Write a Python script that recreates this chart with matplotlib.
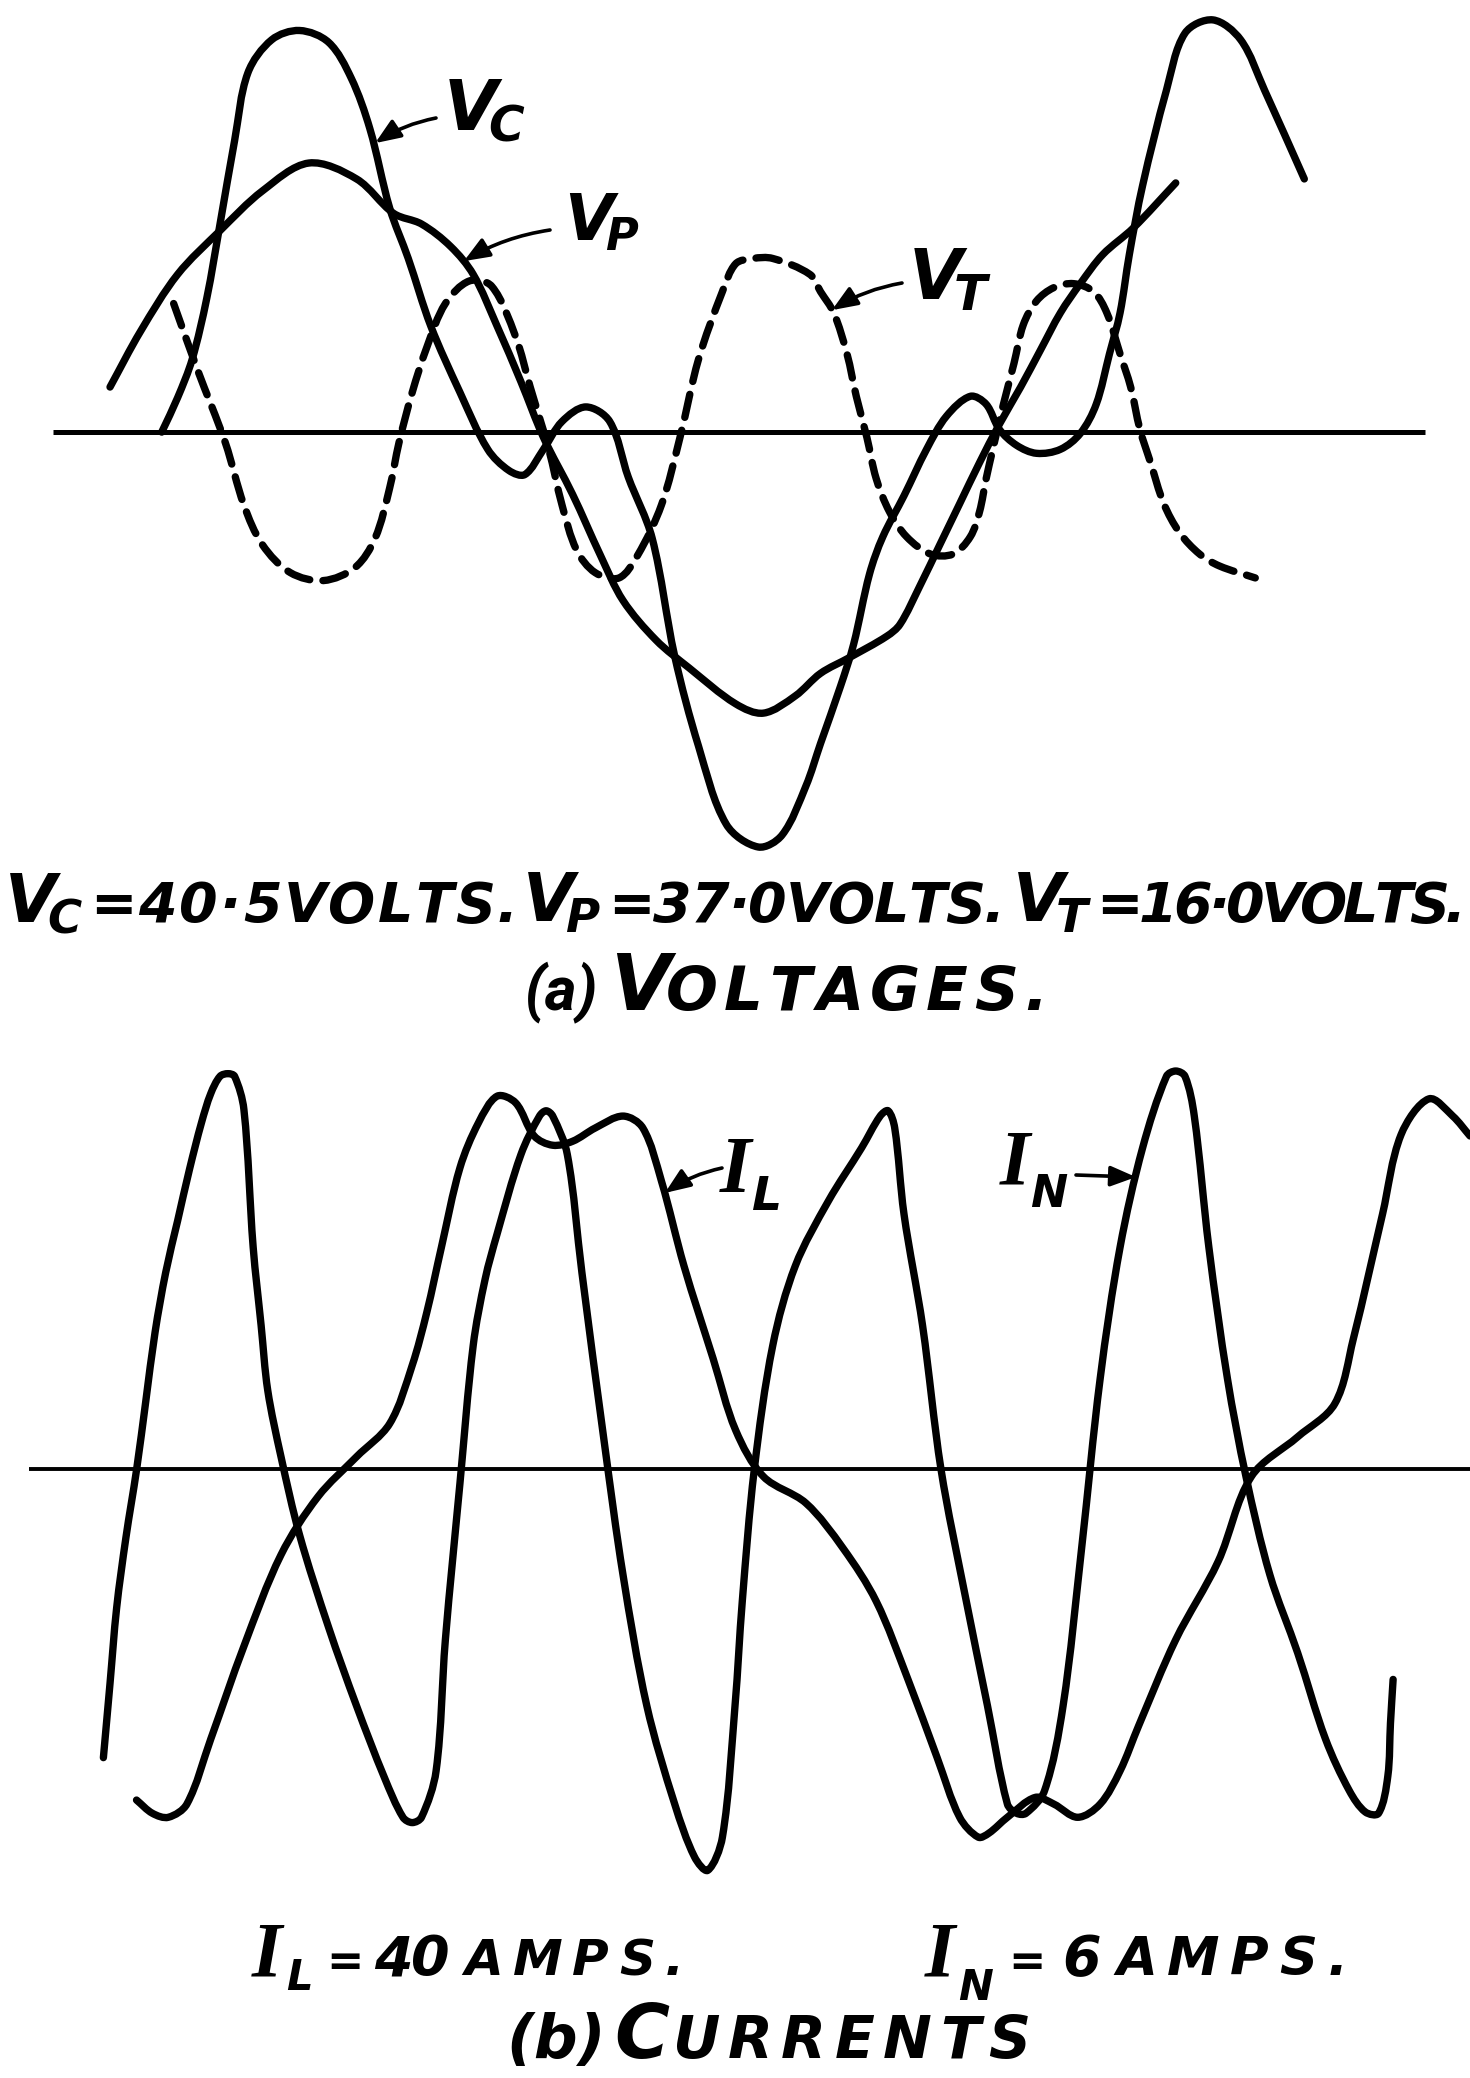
import numpy as np
import matplotlib
matplotlib.use("Agg")
import matplotlib.pyplot as plt
from matplotlib.path import Path
from matplotlib.patches import PathPatch

plt.rcParams["mathtext.fontset"] = "custom"
plt.rcParams["mathtext.it"] = "DejaVu Sans:oblique:bold"
plt.rcParams["mathtext.rm"] = "DejaVu Sans:oblique:bold"
plt.rcParams["mathtext.bf"] = "DejaVu Sans:oblique:bold"

# ---------------------------------------------------------------------------
# Oscillogram traces (time in electrical degrees, deflection in record units)
# ---------------------------------------------------------------------------
# (a) Voltages
vc_t = [61, 67, 72.5, 78, 83, 88.5, 93.5, 102.5, 113, 124,
        132.5, 139.5, 147, 154, 162.5, 173.5, 184, 192, 198, 205,
        212, 221, 230, 237, 246, 254.5, 263.5, 274, 286, 295,
        304, 309.5, 317, 322, 328, 333, 341, 349.5, 357, 366,
        372, 377, 383.5, 391, 400, 407.5, 413.5, 418.5, 422.5, 426,
        431, 440, 447, 457.5, 468, 477, 492]
vc_v = [0.0, 2.6, 5.5, 10.1, 15.7, 22.0, 27.1, 29.6, 30.3, 29.4,
        26.7, 22.9, 16.9, 13.1, 8.0, 3.0, -1.3, -2.9, -3.2, -1.3,
        0.8, 1.9, 0.8, -3.4, -8.0, -16.9, -23.7, -29.6, -31.3, -30.4,
        -26.7, -23.5, -19.2, -16.0, -10.7, -7.9, -4.8, -1.3, 1.2, 2.7,
        2.1, 0.2, -1.0, -1.6, -1.3, -0.1, 2.1, 5.9, 9.0, 13.4,
        18.6, 25.8, 30.1, 31.1, 29.6, 25.8, 19.1]

vp_t = [41.5, 53, 67, 83, 99, 116.5, 134.5, 148.5, 159, 170,
        178.5, 187.5, 196.5, 205, 216, 226.5, 235, 247.5, 260, 277.5,
        288, 300, 309.5, 320.5, 334.5, 339.5, 347, 354.5, 362, 369.5,
        377, 385, 392.5, 400, 407.5, 416, 427.5, 443.5]
vp_v = [3.4, 7.6, 11.9, 15.2, 18.2, 20.3, 19.1, 16.5, 15.7, 14.0,
        11.9, 8.0, 3.8, -0.4, -4.7, -9.3, -12.7, -15.7, -17.8, -20.5,
        -21.2, -19.9, -18.2, -17.0, -15.4, -14.5, -11.6, -8.5, -5.4, -2.3,
        0.6, 3.4, 6.2, 9.0, 11.2, 13.4, 15.4, 18.8]

vt_t = [65.5, 74.5, 85, 92, 99, 109.5, 122, 134, 141.5, 147,
        150.5, 155.5, 161, 168, 177, 185.5, 194.5, 200, 207, 212,
        217.5, 224.5, 233.5, 240.5, 249.5, 256.5, 263.5, 272.5, 277.5, 284,
        291.5, 305.5, 309.5, 314.5, 319.5, 323, 327, 330.5, 335.5, 342,
        351, 359.5, 366, 369.5, 372, 374.5, 378.5, 382.5, 386, 391,
        397.5, 405, 412.5, 417.5, 422.5, 426.5, 430, 434, 439, 445,
        452.5, 460, 473.5]
vt_v = [9.7, 4.7, -0.8, -5.5, -8.5, -10.6, -11.2, -10.2, -8.0, -4.2,
        -0.8, 3.0, 6.4, 9.7, 11.4, 11.0, 7.2, 3.4, -1.3, -5.5,
        -8.9, -10.6, -11.0, -9.3, -5.5, -0.4, 5.5, 10.6, 12.7, 13.1,
        13.1, 11.9, 10.6, 9.0, 5.9, 2.7, -0.4, -3.5, -6.0, -7.9,
        -9.2, -9.2, -7.9, -6.0, -3.5, -1.3, 2.1, 5.2, 8.1, 9.9,
        10.9, 11.2, 10.6, 9.0, 5.9, 3.4, 0.2, -2.3, -5.4, -7.6,
        -9.2, -10.1, -11.0]

# (b) Currents
in_t = [39, 41.5, 44, 47.5, 51.5, 55, 58.5, 62.5, 67, 71.5,
        76, 79.5, 83, 86, 88.5, 92, 95.5, 98.5, 101, 106,
        113, 124, 134.5, 145, 152, 155.5, 159, 164.5, 168, 173.5,
        178.5, 183, 187.5, 196.5, 203.5, 206, 208.5, 214, 219.5, 228,
        235, 244, 254.5, 262, 267, 272.5, 277.25, 280, 284.5, 291.5,
        300, 312.5, 325, 332, 335, 337.5, 341, 348, 355, 364,
        372.5, 380, 383.5, 387, 394, 401, 408, 415, 422.5, 431,
        440, 443.5, 447, 450.5, 456, 463, 470, 479, 489.5, 500,
        509, 515, 520, 523.5, 524.5, 525.5]
in_v = [-21.8, -16.2, -10.5, -5.2, -0.1, 5.1, 10.3, 14.8, 18.7, 22.6,
        26.1, 28.3, 29.6, 29.8, 29.6, 27.1, 16.7, 10.8, 5.9, 0.9,
        -5.0, -12.0, -17.9, -23.3, -26.3, -26.7, -26.3, -22.8, -12.9, -1.1,
        9.3, 14.3, 17.7, 23.7, 26.6, 27.0, 26.6, 23.7, 14.8, 1.9,
        -8.0, -17.9, -25.3, -29.3, -30.3, -27.8, -17.9, -10.0, -0.1, 9.3,
        15.3, 20.2, 24.2, 26.6, 27.0, 25.7, 19.2, 10.8, -0.1, -9.5,
        -17.9, -25.3, -26.0, -26.0, -24.3, -17.9, -6.0, 6.8, 16.7, 24.2,
        29.6, 30.0, 29.6, 26.6, 16.7, 6.8, -0.6, -8.0, -13.9, -20.4,
        -24.3, -25.9, -26.0, -23.2, -19.2, -15.9]

il_t = [51.5, 57.5, 63.5, 70.5, 79.5, 92, 106, 120, 134.5, 147,
        155.5, 161, 166.5, 173.5, 180.5, 187.5, 194.5, 201.5, 208.5, 216,
        224.5, 235, 242.5, 249.5, 258, 269, 277.5, 288, 304, 318,
        330.5, 342.5, 353.5, 362, 369, 373, 380, 390.5, 397.5, 406.5,
        415, 422.5, 429.5, 443.5, 459.5, 472, 489.5, 503.5, 510.5, 521.5,
        528.5, 539, 548, 554.5]
il_v = [-25.0, -26.0, -26.3, -25.3, -20.4, -13.4, -6.5, -2.1, 0.9, 3.4,
        7.8, 11.8, 16.7, 22.7, 26.1, 28.1, 27.6, 25.1, 24.4, 24.7,
        25.7, 26.6, 25.7, 21.7, 15.3, 8.3, 2.9, -0.6, -2.6, -6.0,
        -10.0, -15.9, -21.8, -26.3, -27.8, -27.5, -26.3, -24.8, -25.3, -26.3,
        -25.3, -22.8, -19.4, -12.9, -7.0, -0.6, 2.4, 4.9, 9.8, 19.2,
        25.2, 27.9, 26.6, 25.1]

# zero lines (start / end in degrees)
volt_zero = (20, 537.5)
curr_zero = (11, 554.5)

# ---------------------------------------------------------------------------
FIG_W, FIG_H = 1470, 2078
fig = plt.figure(figsize=(FIG_W / 100, FIG_H / 100), dpi=100)
fig.patch.set_facecolor("white")

ax_v = fig.add_axes([0, 1 - 880 / FIG_H, 1, 880 / FIG_H])
ax_v.set_xlim(0, 554.5)
ax_v.set_ylim(-33.79, 32.6)
ax_i = fig.add_axes([0, (FIG_H - 1900) / FIG_H, 1, 860 / FIG_H])
ax_i.set_xlim(0, 554.5)
ax_i.set_ylim(-32.54, 32.34)
for ax in (ax_v, ax_i):
    ax.axis("off")

PX_X, PX_Y = FIG_W / 554.5, 13.255   # display pixels per data unit


def trace_path(t, v):
    """Smooth Bezier path through the read points (chord-length Catmull-Rom)."""
    P = np.column_stack([t, v]).astype(float)
    S = np.array([PX_X, PX_Y])
    n = len(P)
    verts, codes = [P[0]], [Path.MOVETO]
    for i in range(n - 1):
        p0, p1 = P[max(i - 1, 0)], P[i]
        p2, p3 = P[i + 1], P[min(i + 2, n - 1)]
        d01 = np.linalg.norm((p1 - p0) * S)
        d12 = np.linalg.norm((p2 - p1) * S)
        d23 = np.linalg.norm((p3 - p2) * S)
        m1 = (p2 - p0) * d12 / (d01 + d12)
        m2 = (p3 - p1) * d12 / (d12 + d23)
        verts += [p1 + m1 / 3, p2 - m2 / 3, p2]
        codes += [Path.CURVE4] * 3
    return Path(verts, codes)


def draw_trace(ax, t, v, dashed=False):
    ls = (0, (3.2, 1.8)) if dashed else "-"
    ax.add_patch(PathPatch(trace_path(t, v), fill=False, lw=5.3, ls=ls,
                           edgecolor="black", capstyle="round",
                           joinstyle="round"))


ax_v.hlines(0, *volt_zero, color="black", lw=3.6)
ax_i.hlines(0, *curr_zero, color="black", lw=2.8)

draw_trace(ax_v, vc_t, vc_v)
draw_trace(ax_v, vp_t, vp_v)
draw_trace(ax_v, vt_t, vt_v, dashed=True)
draw_trace(ax_i, in_t, in_v)
draw_trace(ax_i, il_t, il_v)

# ---------------------------------------------------------------------------
# Lettering
# ---------------------------------------------------------------------------
SANS = dict(family="DejaVu Sans", weight="bold", style="oblique")
ROUND = dict(family="Roboto", weight="bold", style="italic")
SERIF = dict(family="Liberation Serif", weight="bold", style="italic")
renderer = fig.canvas.get_renderer()


def fpos(x, y):
    return x / FIG_W, 1 - y / FIG_H


def glyph(x, y, s, size, font=SANS):
    return fig.text(*fpos(x, y), s, fontsize=size, ha="left", va="baseline",
                    color="black", **font)


def volt_sym(x, y, sub, size):
    """V with its subscript set close under the right arm, as one text."""
    return glyph(x, y, r"$V_{\!\mathrm{%s}}$" % sub, size)


def spread(x0, x1, y, s, size, font=SANS):
    """Letter-spaced word running from x0 to x1 (pixels) on baseline y."""
    arts = [fig.text(0, 0, ch, fontsize=size, ha="left", va="baseline",
                     color="black", **font) for ch in s]
    widths = [a.get_window_extent(renderer).width for a in arts]
    gap = (x1 - x0 - sum(widths)) / max(len(s) - 1, 1)
    x = x0
    for a, w in zip(arts, widths):
        a.set_position(fpos(x, y))
        x += w + gap


# V_C = 40.5 VOLTS.  V_P = 37.0 VOLTS.  V_T = 16.0 VOLTS.
volt_sym(4, 922, "C", 48)
spread(90, 518, 922, "=40·5VOLTS.", 40)
volt_sym(522, 922, "P", 48)
spread(608, 1005, 922, "=37·0VOLTS.", 40)
volt_sym(1012, 922, "T", 48)
spread(1096, 1466, 922, "=16·0VOLTS.", 40)

# (a) VOLTAGES.
glyph(524, 1010, "(a)", 44, ROUND)
glyph(610, 1010, "V", 56)
spread(666, 1047, 1010, "OLTAGES.", 44)

# I_L = 40 AMPS.      I_N = 6 AMPS.
glyph(252, 1975, "I", 56, SERIF)
glyph(286, 1990, "L", 30)
glyph(326, 1975, "=", 32)
spread(374, 450, 1975, "40", 40)
spread(464, 684, 1975, "AMPS.", 36)
glyph(925, 1975, "I", 56, SERIF)
glyph(958, 2000, "N", 30)
glyph(1008, 1975, "=", 32)
glyph(1062, 1975, "6", 40)
spread(1116, 1348, 1975, "AMPS.", 38)

# (b) CURRENTS
glyph(506, 2058, "(b)", 44)
glyph(614, 2058, "C", 54)
spread(672, 1030, 2058, "URRENTS", 42)

# ---------------------------------------------------------------------------
# Curve labels with pointer arrows
# ---------------------------------------------------------------------------
def pointer(ax, tip, tail, rad):
    ax.annotate("", xy=tip, xycoords="data",
                xytext=(tail[0], FIG_H - tail[1]), textcoords="figure pixels",
                arrowprops=dict(arrowstyle="-|>,head_length=0.7,head_width=0.28",
                                lw=2.6, color="black", shrinkA=0, shrinkB=0,
                                mutation_scale=22,
                                connectionstyle=f"arc3,rad={rad}"))


volt_sym(443, 130, "C", 50)
pointer(ax_v, (141.5, 21.8), (436, 118), 0.1)

volt_sym(564, 240, "P", 46)
pointer(ax_v, (175.0, 12.9), (550, 230), 0.1)

volt_sym(908, 300, "T", 50)
pointer(ax_v, (313.8, 9.2), (902, 283), 0.1)

glyph(720, 1192, "I", 58, SERIF)
glyph(752, 1210, "L", 34)
pointer(ax_i, (250.8, 20.8), (722, 1168), 0.1)

glyph(1000, 1183, "I", 56, SERIF)
glyph(1030, 1207, "N", 32)
pointer(ax_i, (428.5, 22.0), (1076, 1175), 0.0)

fig.savefig("out.png", dpi=100, facecolor="white")
